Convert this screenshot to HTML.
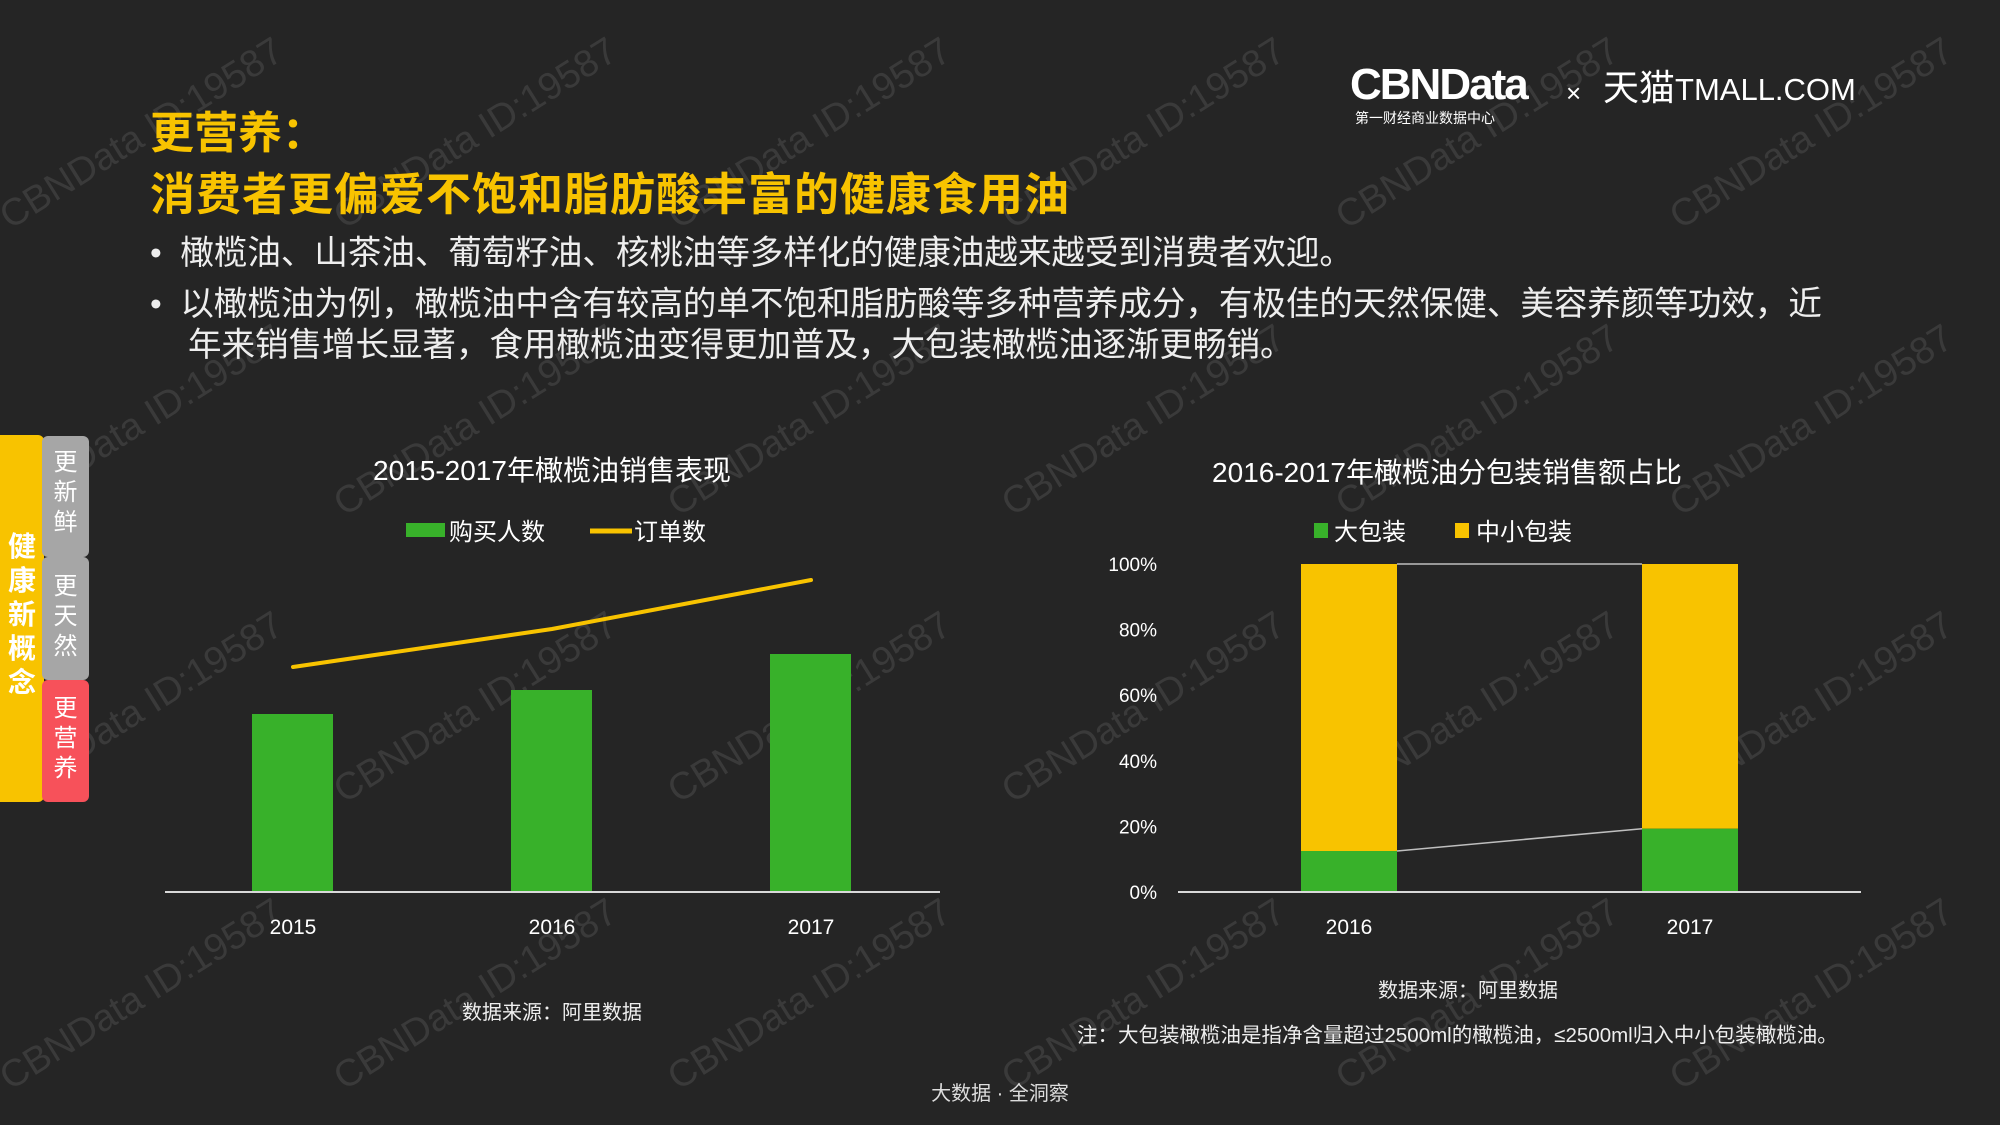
<!DOCTYPE html>
<html style="overflow:hidden;height:1125px"><head><meta charset="utf-8">
<style>
html,body{margin:0;width:2000px;height:1125px;overflow:hidden}
body{background:#252525;position:relative;font-family:"Liberation Sans","Noto Sans CJK SC",sans-serif;color:#fff}
.abs{position:absolute;white-space:nowrap}
</style></head><body>
<svg class="abs" style="left:0;top:0" width="2000" height="1125" id="wm"></svg>

<div class="abs" style="left:150px;top:106px;font-size:44px;font-weight:bold;color:#f8c300;line-height:56px">更营养：</div>
<div class="abs" style="left:150px;top:166px;font-size:45px;font-weight:bold;color:#f8c300;line-height:58px;letter-spacing:1px">消费者更偏爱不饱和脂肪酸丰富的健康食用油</div>

<div class="abs" style="left:150px;top:233px;font-size:33.5px;line-height:42px;color:#eee">•&nbsp;&nbsp;橄榄油、山茶油、葡萄籽油、核桃油等多样化的健康油越来越受到消费者欢迎。</div>
<div class="abs" style="left:150px;top:284px;font-size:33.5px;line-height:41px;color:#eee">•&nbsp;&nbsp;以橄榄油为例，橄榄油中含有较高的单不饱和脂肪酸等多种营养成分，有极佳的天然保健、美容养颜等功效，近<br><span style="padding-left:38px">年来销售增长显著，食用橄榄油变得更加普及，大包装橄榄油逐渐更畅销。</span></div>

<div class="abs" style="left:1350px;top:62px;font-size:44px;font-weight:bold;line-height:46px;letter-spacing:-2px">CBNData</div>
<div class="abs" style="left:1355px;top:110px;font-size:14px;line-height:16px">第一财经商业数据中心</div>
<div class="abs" style="left:1566px;top:78px;font-size:26px">×</div>
<div class="abs" style="left:1603px;top:66px;font-size:36px;line-height:44px">天猫<span style="font-size:31px;letter-spacing:0px">TMALL.COM</span></div>

<div class="abs" style="left:0;top:435px;width:44px;height:367px;background:#f8c300;border-radius:0 6px 6px 0"></div>
<div class="abs" style="left:4px;top:530px;width:36px;font-size:28px;font-weight:bold;line-height:34px;white-space:normal;text-align:center">健康新概念</div>
<div class="abs" style="left:42px;top:436px;width:47px;height:121px;background:#a6a6a6;border-radius:6px;font-size:24px;line-height:30px;text-align:center;white-space:normal;padding-top:12px;box-sizing:border-box">更新鲜</div>
<div class="abs" style="left:42px;top:557px;width:47px;height:123px;background:#a6a6a6;border-radius:6px;font-size:24px;line-height:30px;text-align:center;white-space:normal;padding-top:15px;box-sizing:border-box">更天然</div>
<div class="abs" style="left:42px;top:680px;width:47px;height:122px;background:#f7515a;border-radius:6px;font-size:24px;line-height:30px;text-align:center;white-space:normal;padding-top:14px;box-sizing:border-box">更营养</div>

<svg class="abs" style="left:0;top:0" width="2000" height="1125" id="ch" font-family="Liberation Sans, Noto Sans CJK SC, sans-serif"></svg>

<div class="abs" style="left:0;width:2000px;top:1079px;height:30px;line-height:30px;text-align:center;font-size:20px;color:#ddd">大数据 · 全洞察</div>

<script>
// Left chart data
const years1 = ['2015','2016','2017'];
const buyers = [178, 202, 238];
const orders = [225, 263, 312];
// Right chart data
const years2 = ['2016','2017'];
const bigPack = [12.5, 19.3];
const ticks2 = ['0%','20%','40%','60%','80%','100%'];
const tickVals2 = [0,20,40,60,80,100];

const NS='http://www.w3.org/2000/svg';
function mk(parent,tag,attrs,text){const e=document.createElementNS(NS,tag);for(const k in attrs)e.setAttribute(k,attrs[k]);if(text!==undefined)e.textContent=text;parent.appendChild(e);return e;}

const wm=document.getElementById('wm');
for(let r=-1;r<5;r++){for(let c=0;c<7;c++){
  const x=10+c*334, y=230+r*287;
  const t=mk(wm,'text',{x:x,y:y,'font-size':38,fill:'#3a3a3a','font-family':'Liberation Sans, sans-serif',transform:`rotate(-32 ${x} ${y})`},'CBNData ID:19587');
  
  
}}

const ch=document.getElementById('ch');
const base1=892, x1=i=>293+i*259, y1=v=>base1-v;
let t=mk(ch,'text',{x:552,y:480,'font-size':28,fill:'#fff','text-anchor':'middle'},'2015-2017年橄榄油销售表现');

let r=mk(ch,'rect',{x:406,y:523,width:39,height:14,fill:'#38b12a'});

t=mk(ch,'text',{x:449,y:540,'font-size':24,fill:'#fff'},'购买人数');

let l=mk(ch,'line',{x1:590,y1:531,x2:632,y2:531,stroke:'#f8c300','stroke-width':5});

t=mk(ch,'text',{x:634,y:540,'font-size':24,fill:'#fff'},'订单数');

buyers.forEach((v,i)=>{
  const b=mk(ch,'rect',{x:x1(i)-41,y:y1(v),width:81,height:v,fill:'#38b12a'});
  
  
  const tx=mk(ch,'text',{x:x1(i),y:934,'font-size':21,fill:'#fff','text-anchor':'middle'},years1[i]);
  
  
});
let d='';orders.forEach((v,i)=>{d+=(i?'L':'M')+x1(i)+','+y1(v);});
const pl=mk(ch,'path',{d:d,fill:'none',stroke:'#f8c300','stroke-width':4,'stroke-linecap':'round','stroke-linejoin':'round'});

l=mk(ch,'line',{x1:165,y1:892,x2:940,y2:892,stroke:'#d9d9d9','stroke-width':2});

t=mk(ch,'text',{x:552,y:1019,'font-size':20,fill:'#eee','text-anchor':'middle'},'数据来源：阿里数据');


const base2=892, h2=328, x2=i=>1349+i*341, y2=v=>base2-v/100*h2, bw=96;
t=mk(ch,'text',{x:1447,y:482,'font-size':28,fill:'#fff','text-anchor':'middle'},'2016-2017年橄榄油分包装销售额占比');

r=mk(ch,'rect',{x:1314,y:523,width:14,height:15,fill:'#38b12a'});

t=mk(ch,'text',{x:1334,y:540,'font-size':24,fill:'#fff'},'大包装');

r=mk(ch,'rect',{x:1455,y:523,width:14,height:15,fill:'#f8c300'});

t=mk(ch,'text',{x:1476,y:540,'font-size':24,fill:'#fff'},'中小包装');

tickVals2.forEach((v,i)=>{
  const tt=mk(ch,'text',{x:1157,y:y2(v)+7,'font-size':19,fill:'#fff','text-anchor':'end'},ticks2[i]);
  
  
});
l=mk(ch,'line',{x1:x2(0)+bw/2,y1:y2(100),x2:x2(1)-bw/2,y2:y2(100),stroke:'#bfbfbf','stroke-width':1.5});

l=mk(ch,'line',{x1:x2(0)+bw/2,y1:y2(bigPack[0]),x2:x2(1)-bw/2,y2:y2(bigPack[1]),stroke:'#bfbfbf','stroke-width':1.5});

bigPack.forEach((v,i)=>{
  const s=mk(ch,'rect',{x:x2(i)-bw/2,y:y2(100),width:bw,height:y2(v)-y2(100),fill:'#f8c300'});
  
  
  const b=mk(ch,'rect',{x:x2(i)-bw/2,y:y2(v),width:bw,height:base2-y2(v),fill:'#38b12a'});
  
  
  const tx=mk(ch,'text',{x:x2(i),y:934,'font-size':21,fill:'#fff','text-anchor':'middle'},years2[i]);
  
  
});
l=mk(ch,'line',{x1:1178,y1:892,x2:1861,y2:892,stroke:'#d9d9d9','stroke-width':2});

t=mk(ch,'text',{x:1468,y:997,'font-size':20,fill:'#eee','text-anchor':'middle'},'数据来源：阿里数据');

t=mk(ch,'text',{x:1077,y:1042,'font-size':20.5,fill:'#eee'},'注：大包装橄榄油是指净含量超过2500ml的橄榄油，≤2500ml归入中小包装橄榄油。');

</script>
</body></html>
